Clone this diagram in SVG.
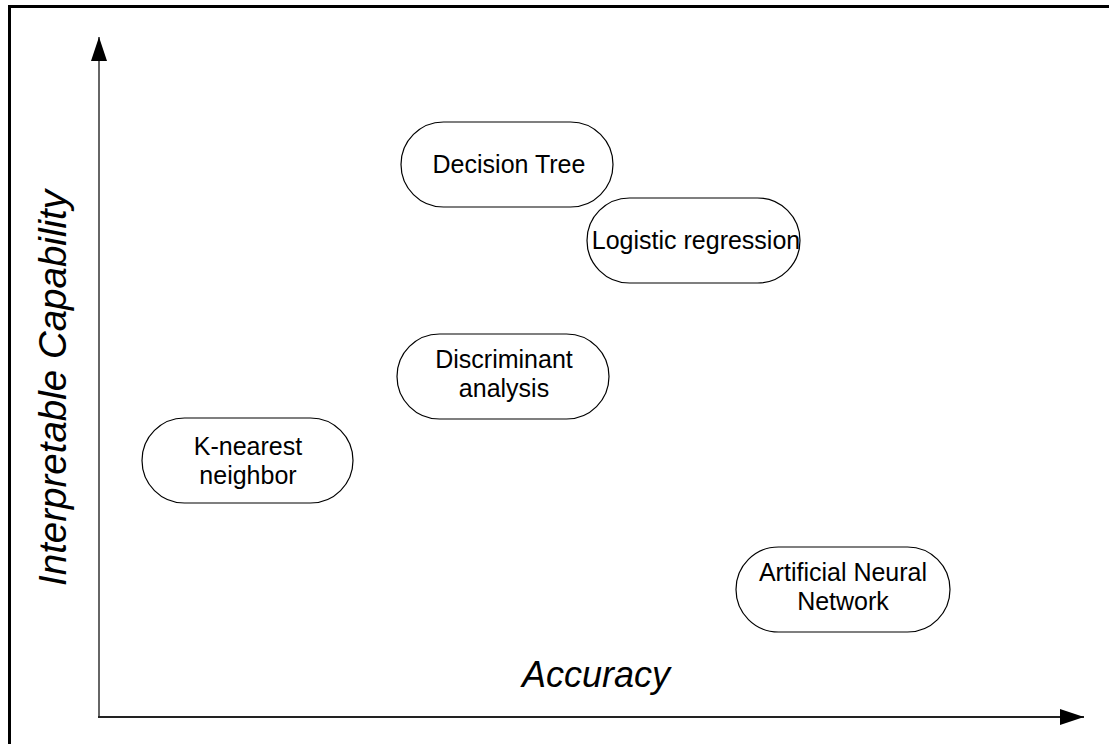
<svg xmlns="http://www.w3.org/2000/svg" width="1109" height="744" viewBox="0 0 1109 744">
  <style>
    .node rect { fill: #fff; stroke: #000; stroke-width: 1.2; }
    .node text { font-family: "Liberation Sans", Arial, sans-serif; font-size: 25px; fill: #000; text-anchor: middle; }
    .axis-label { font-family: "Liberation Sans", Arial, sans-serif; font-size: 36px; font-style: italic; fill: #000; text-anchor: middle; }
    .axis-label.vertical { font-size: 38.5px; }
  </style>
  <defs>
    <marker id="arrow" markerWidth="24" markerHeight="16" refX="24" refY="8" orient="auto" markerUnits="userSpaceOnUse">
      <path d="M0,0 L24,8 L0,16 Z" fill="#000"/>
    </marker>
  </defs>
  <rect x="0" y="0" width="1109" height="744" fill="#fff"/>
  <!-- outer frame (right and bottom edges fall outside the canvas) -->
  <rect x="9.5" y="6.5" width="1110" height="750" fill="none" stroke="#000" stroke-width="3"/>

  <g id="connectors">
    <line x1="99" y1="718" x2="99" y2="37" stroke="#666" stroke-width="2" marker-end="url(#arrow)"/>
    <line x1="98" y1="717" x2="1084" y2="717" stroke="#222" stroke-width="2" marker-end="url(#arrow)"/>
  </g>

  <text class="axis-label vertical" transform="translate(66,388) rotate(-90)">Interpretable Capability</text>
  <text class="axis-label" x="596" y="687">Accuracy</text>

  <g id="decision-tree" class="node">
    <rect x="401" y="122" width="212" height="85" rx="42.5"/>
    <text x="509" y="173">Decision Tree</text>
  </g>
  <g id="logistic-regression" class="node">
    <rect x="587" y="198" width="213" height="85" rx="42.5"/>
    <text x="696" y="249">Logistic regression</text>
  </g>
  <g id="discriminant-analysis" class="node">
    <rect x="397" y="334" width="212" height="85" rx="42.5"/>
    <text x="504" y="368">Discriminant</text>
    <text x="504" y="397">analysis</text>
  </g>
  <g id="k-nearest-neighbor" class="node">
    <rect x="142" y="418" width="211" height="85" rx="42.5"/>
    <text x="248" y="455">K-nearest</text>
    <text x="248" y="484">neighbor</text>
  </g>
  <g id="artificial-neural-network" class="node">
    <rect x="736" y="547" width="214" height="85" rx="42.5"/>
    <text x="843" y="581">Artificial Neural</text>
    <text x="843" y="610">Network</text>
  </g>
</svg>
